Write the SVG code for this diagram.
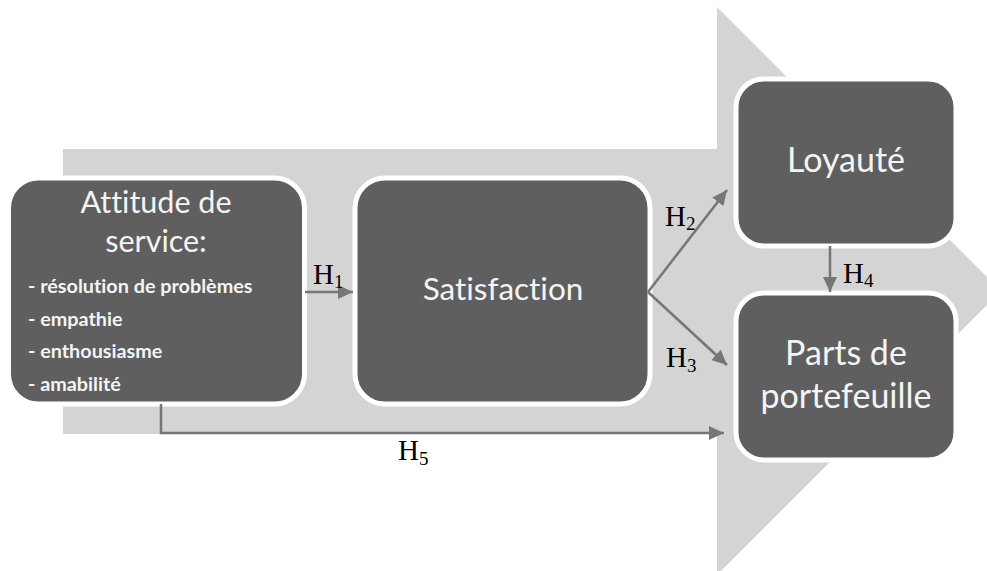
<svg xmlns="http://www.w3.org/2000/svg" width="987" height="571" viewBox="0 0 987 571">
<style>
.node{fill:#5f5f5f;stroke:#ffffff;stroke-width:5}
.lbl{font-family:Lato,"Open Sans",sans-serif;fill:#f4f4f4;text-anchor:middle;font-variant-ligatures:none}
.bul{font-family:Lato,"Open Sans",sans-serif;font-weight:bold;fill:#f4f4f4;font-size:19.8px;font-variant-ligatures:none}
.con{fill:none;stroke:#767676;stroke-width:2.5}
.h{font-family:"Liberation Serif","Times New Roman",serif;font-size:29px;fill:#000}
.sub{font-size:19px}
</style>
<defs>
<marker id="ah" markerUnits="userSpaceOnUse" markerWidth="16" markerHeight="14" refX="15" refY="7" orient="auto">
<path d="M0,0 L15,7 L0,14 Z" fill="#767676"/>
</marker>
</defs>
<g id="background-arrow">
<path d="M63,149 L717,149 L717,7 L1001,291 L717,575 L717,434 L63,434 Z" fill="#d4d4d4"/>
</g>
<g id="node-attitude">
<rect class="node" x="8.5" y="178" width="296" height="226" rx="30"/>
<text class="lbl" x="156" y="213" font-size="30.5">Attitude de</text>
<text class="lbl" x="156" y="252" font-size="30.5">service:</text>
<text class="bul" x="28" y="293">- résolution de problèmes</text>
<text class="bul" x="28" y="326">- empathie</text>
<text class="bul" x="28" y="358">- enthousiasme</text>
<text class="bul" x="28" y="391">- amabilité</text>
</g>
<g id="node-satisfaction">
<rect class="node" x="355" y="178" width="295" height="226" rx="30"/>
<text class="lbl" x="503" y="300" font-size="31.5">Satisfaction</text>
</g>
<g id="node-loyaute">
<rect class="node" x="736" y="79" width="220" height="167" rx="28"/>
<text class="lbl" x="846" y="172" font-size="34">Loyauté</text>
</g>
<g id="node-parts">
<rect class="node" x="736" y="293" width="220" height="167" rx="28"/>
<text class="lbl" x="846" y="365" font-size="34">Parts de</text>
<text class="lbl" x="846" y="408" font-size="34">portefeuille</text>
</g>
<g id="connectors">
<path class="con" d="M305,292 L353,292" marker-end="url(#ah)"/>
<path class="con" d="M648,292 L727,190" marker-end="url(#ah)"/>
<path class="con" d="M648,292 L727,365" marker-end="url(#ah)"/>
<path class="con" d="M830,246 L830,292" marker-end="url(#ah)"/>
<path class="con" d="M161,404 L161,433 L724,433" marker-end="url(#ah)"/>
</g>
<g id="labels">
<text class="h" x="313" y="284">H<tspan class="sub" dy="4">1</tspan></text>
<text class="h" x="665" y="226">H<tspan class="sub" dy="4">2</tspan></text>
<text class="h" x="666" y="367">H<tspan class="sub" dy="5">3</tspan></text>
<text class="h" x="843" y="283">H<tspan class="sub" dy="4">4</tspan></text>
<text class="h" x="398" y="460">H<tspan class="sub" dy="5">5</tspan></text>
</g>
</svg>
